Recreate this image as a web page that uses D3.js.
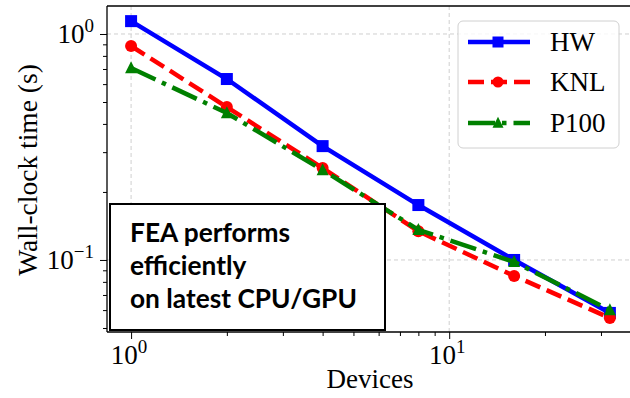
<!DOCTYPE html>
<html><head><meta charset="utf-8">
<script src="https://cdn.jsdelivr.net/npm/d3@7"></script>
<style>body{margin:0;background:#fff} svg{display:block}</style>
</head><body>
<svg id="c" width="630" height="398"></svg>
<script>
// ---- data ----
const devices = [1, 2, 4, 8, 16, 32];
const hw   = [1.14, 0.632, 0.319, 0.175, 0.100, 0.0583];
const knl  = [0.885, 0.475, 0.255, 0.134, 0.085, 0.0554];
const p100 = [0.707, 0.447, 0.250, 0.136, 0.098, 0.0600];
const seriesNames = ["HW", "KNL", "P100"];
const xMajorTicks = [1, 10];
const xMajorLabels = [["10", "0"], ["10", "1"]];
const yMajorTicks = [1, 0.1];
const yMajorLabels = [["10", "0"], ["10", "−1"]];
const xMinorTicks = [2, 3, 4, 5, 6, 7, 8, 9, 20, 30];
const yMinorTicks = [0.05, 0.06, 0.07, 0.08, 0.09, 0.2, 0.3, 0.4, 0.5, 0.6, 0.7, 0.8, 0.9];
const xLabel = "Devices";
const yLabel = "Wall-clock time (s)";
const noteLines = ["FEA performs", "efficiently", "on latest CPU/GPU"];

// ---- layout ----
const svg = d3.select("#c");
const L = 107, R = 634, T = 6, B = 332;
const x = d3.scaleLog().domain([0.84, 38.1]).range([L, R]);
const y = d3.scaleLog().domain([0.048, 1.33]).range([B, T]);
const serif = "'Liberation Serif', 'Times New Roman', serif";

const series = [
  {name: seriesNames[0], vals: hw,   color: "#0000ff", dash: null,               marker: "square"},
  {name: seriesNames[1], vals: knl,  color: "#ff0000", dash: "16,7",             marker: "circle"},
  {name: seriesNames[2], vals: p100, color: "#008000", dash: "27,7,4.5,7",       marker: "triangle"}
];

// grid
const g = svg.append("g");
g.selectAll(".gx").data(xMajorTicks).enter().append("line")
  .attr("x1", d => x(d)).attr("x2", d => x(d)).attr("y1", T).attr("y2", B)
  .attr("stroke", "#cfcfcf").attr("stroke-width", 1).attr("stroke-dasharray", "4,3");
g.selectAll(".gy").data(yMajorTicks).enter().append("line")
  .attr("y1", d => y(d)).attr("y2", d => y(d)).attr("x1", L).attr("x2", R)
  .attr("stroke", "#cfcfcf").attr("stroke-width", 1).attr("stroke-dasharray", "4,3");

// axes ticks
const xAxisMajor = d3.axisBottom(x).tickValues(xMajorTicks).tickSize(7).tickFormat("");
const xAxisMinor = d3.axisBottom(x).tickValues(xMinorTicks).tickSize(4).tickFormat("");
const yAxisMajor = d3.axisLeft(y).tickValues(yMajorTicks).tickSize(7).tickFormat("");
const yAxisMinor = d3.axisLeft(y).tickValues(yMinorTicks).tickSize(4).tickFormat("");
[[xAxisMajor, `translate(0,${B})`], [xAxisMinor, `translate(0,${B})`],
 [yAxisMajor, `translate(${L},0)`], [yAxisMinor, `translate(${L},0)`]].forEach(([ax, tr]) => {
  const a = svg.append("g").attr("transform", tr).call(ax);
  a.select(".domain").remove();
  a.selectAll("line").attr("stroke", "#000").attr("stroke-width", 1);
});

// tick labels
xMajorTicks.forEach((t, i) => {
  const tx = svg.append("text").attr("x", x(t) - 2).attr("y", 364)
    .attr("text-anchor", "middle").attr("font-family", serif).attr("font-size", 27);
  tx.append("tspan").text(xMajorLabels[i][0]);
  tx.append("tspan").attr("dy", -11).attr("font-size", 19).text(xMajorLabels[i][1]);
});
yMajorTicks.forEach((t, i) => {
  const tx = svg.append("text").attr("x", 94).attr("y", y(t) + 9)
    .attr("text-anchor", "end").attr("font-family", serif).attr("font-size", 27);
  tx.append("tspan").text(yMajorLabels[i][0]);
  tx.append("tspan").attr("dy", -11).attr("font-size", 19).text(yMajorLabels[i][1]);
});

// axis labels
svg.append("text").attr("x", 370).attr("y", 388).attr("text-anchor", "middle")
  .attr("font-family", serif).attr("font-size", 27).text(xLabel);
svg.append("text").attr("transform", "translate(37,170) rotate(-90)").attr("text-anchor", "middle")
  .attr("font-family", serif).attr("font-size", 27.5).text(yLabel);

const plot = svg.append("g");
const line = d3.line().x(d => x(d[0])).y(d => y(d[1]));
function drawMarker(sel, type, cx, cy, color, s) {
  if (type === "square") sel.append("rect").attr("x", cx - s/2).attr("y", cy - s/2).attr("width", s).attr("height", s).attr("fill", color);
  else if (type === "circle") sel.append("circle").attr("cx", cx).attr("cy", cy).attr("r", s/2).attr("fill", color);
  else {
    const h = s * 0.95;
    sel.append("path").attr("d", `M${cx},${cy - h*0.6}L${cx + s/2},${cy + h*0.45}L${cx - s/2},${cy + h*0.45}Z`).attr("fill", color);
  }
}
series.forEach(s => {
  const pts = devices.map((d, i) => [d, s.vals[i]]);
  plot.append("path").datum(pts).attr("d", line).attr("fill", "none")
    .attr("stroke", s.color).attr("stroke-width", 4.5).attr("stroke-dasharray", s.dash);
  pts.forEach(p => drawMarker(plot, s.marker, x(p[0]), y(p[1]), s.color, 12));
});

// spines
svg.append("line").attr("x1", L).attr("x2", L).attr("y1", T).attr("y2", B).attr("stroke", "#000").attr("stroke-width", 1.3);
svg.append("line").attr("x1", L).attr("x2", R).attr("y1", B).attr("y2", B).attr("stroke", "#000").attr("stroke-width", 1.3);
svg.append("line").attr("x1", L).attr("x2", R).attr("y1", T).attr("y2", T).attr("stroke", "#000").attr("stroke-width", 1.3);

// legend
const lg = svg.append("g");
lg.append("rect").attr("x", 458).attr("y", 21).attr("width", 161).attr("height", 127).attr("rx", 5)
  .attr("fill", "#fff").attr("fill-opacity", 0.8).attr("stroke", "#d0d0d0").attr("stroke-width", 1);
const legY = [42, 82, 123];
series.forEach((s, i) => {
  lg.append("line").attr("x1", 468).attr("x2", 530).attr("y1", legY[i]).attr("y2", legY[i])
    .attr("stroke", s.color).attr("stroke-width", 4.5).attr("stroke-dasharray", s.dash);
  drawMarker(lg, s.marker, 498, legY[i], s.color, 11);
  lg.append("text").attr("x", 550).attr("y", legY[i] + 9).attr("font-family", serif).attr("font-size", 27).text(s.name);
});

// annotation box
const nb = svg.append("g");
nb.append("rect").attr("x", 110).attr("y", 204).attr("width", 275).attr("height", 126)
  .attr("fill", "#fff").attr("stroke", "#000").attr("stroke-width", 2);
const noteY = [242, 275, 308];
const nts = noteLines.map((t, i) => nb.append("text").attr("x", 130).attr("y", noteY[i])
  .attr("font-family", "Lato, 'Open Sans', sans-serif").attr("font-weight", 700).attr("font-size", 26).text(t));
const w = nts[2].node().getComputedTextLength();
const fs = 26 * 227 / w;
nts.forEach(n => n.attr("font-size", fs));
</script>
</body></html>
